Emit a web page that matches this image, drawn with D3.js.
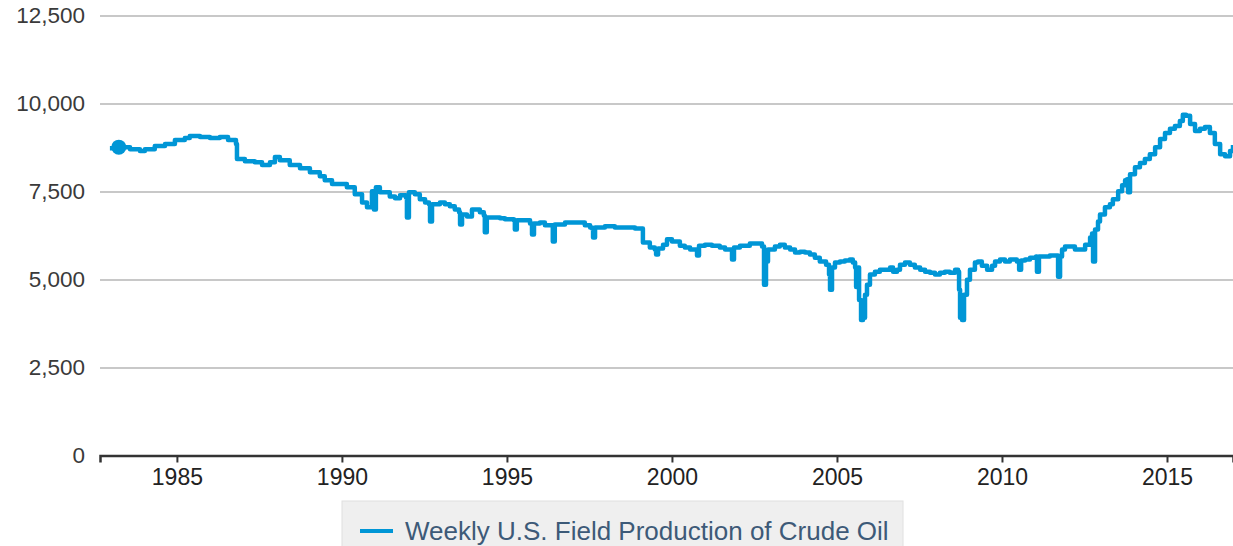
<!DOCTYPE html>
<html>
<head>
<meta charset="utf-8">
<script src="https://cdn.jsdelivr.net/npm/d3@7"></script>
<style>
  body { margin: 0; background: #fff; }
  svg { display: block; font-family: "Liberation Sans", Arial, sans-serif; }
</style>
</head>
<body>
<div id="chart"></div>
<script>
// values (thousand barrels per day)
const years = [
  1982.97, 1983.24, 1983.58, 1983.88, 1984.03, 1984.33, 1984.64, 1984.94, 1985.24, 1985.39,
  1985.70, 1986.00, 1986.30, 1986.55, 1986.79, 1986.82, 1987.06, 1987.36, 1987.58, 1987.70,
  1987.82, 1987.97, 1988.12, 1988.42, 1988.73, 1989.03, 1989.33, 1989.48, 1989.70, 1989.94,
  1990.15, 1990.39, 1990.61, 1990.76, 1990.85, 1990.91, 1990.97, 1991.03, 1991.15, 1991.45,
  1991.61, 1991.76, 1991.94, 1991.97, 1992.03, 1992.21, 1992.36, 1992.52, 1992.64, 1992.67,
  1992.73, 1992.97, 1993.12, 1993.27, 1993.42, 1993.55, 1993.58, 1993.64, 1993.79, 1993.94,
  1994.18, 1994.30, 1994.33, 1994.39, 1994.64, 1994.79, 1994.94, 1995.21, 1995.24, 1995.30,
  1995.55, 1995.70, 1995.76, 1995.82, 1996.00, 1996.15, 1996.36, 1996.39, 1996.45, 1996.76,
  1997.06, 1997.36, 1997.52, 1997.58, 1997.61, 1997.67, 1997.97, 1998.27, 1998.58, 1998.88,
  1999.09, 1999.12, 1999.33, 1999.48, 1999.52, 1999.58, 1999.73, 1999.85, 2000.00, 2000.24,
  2000.39, 2000.55, 2000.73, 2000.76, 2000.82, 2001.00, 2001.21, 2001.45, 2001.61, 2001.79,
  2001.82, 2001.88, 2002.06, 2002.36, 2002.61, 2002.73, 2002.79, 2002.85, 2002.91, 2003.12,
  2003.27, 2003.42, 2003.58, 2003.73, 2003.88, 2004.03, 2004.18, 2004.33, 2004.48, 2004.67,
  2004.76, 2004.79, 2004.85, 2004.94, 2005.09, 2005.24, 2005.39, 2005.48, 2005.55, 2005.58,
  2005.64, 2005.67, 2005.73, 2005.79, 2005.85, 2005.91, 2006.00, 2006.15, 2006.30, 2006.45,
  2006.61, 2006.70, 2006.82, 2006.91, 2007.06, 2007.21, 2007.36, 2007.52, 2007.67, 2007.82,
  2007.97, 2008.12, 2008.27, 2008.42, 2008.58, 2008.67, 2008.70, 2008.73, 2008.79, 2008.85,
  2008.94, 2009.03, 2009.18, 2009.27, 2009.39, 2009.55, 2009.70, 2009.79, 2009.94, 2010.09,
  2010.24, 2010.45, 2010.52, 2010.58, 2010.70, 2010.85, 2011.03, 2011.06, 2011.12, 2011.30,
  2011.45, 2011.64, 2011.70, 2011.76, 2011.82, 2011.91, 2012.06, 2012.21, 2012.36, 2012.52,
  2012.67, 2012.73, 2012.76, 2012.82, 2012.91, 2012.97, 2013.12, 2013.27, 2013.36, 2013.52,
  2013.64, 2013.73, 2013.79, 2013.82, 2013.88, 2014.03, 2014.18, 2014.33, 2014.48, 2014.64,
  2014.79, 2014.94, 2015.09, 2015.24, 2015.39, 2015.48, 2015.58, 2015.70, 2015.85, 2016.00,
  2016.15, 2016.30, 2016.45, 2016.61, 2016.76, 2016.91, 2017.00
];

const production = [
  8730, 8760, 8700, 8650, 8700, 8790, 8850, 8960, 9020, 9075,
  9050, 9020, 9050, 8960, 8850, 8420, 8360, 8330, 8250, 8250,
  8330, 8480, 8390, 8250, 8160, 8050, 7930, 7820, 7710, 7710,
  7620, 7420, 7190, 7050, 7050, 7510, 6990, 7620, 7480, 7360,
  7310, 7390, 7330, 6760, 7480, 7420, 7280, 7190, 7140, 6650,
  7140, 7190, 7140, 7080, 6990, 6910, 6560, 6850, 6790, 6990,
  6910, 6820, 6340, 6760, 6760, 6740, 6710, 6680, 6420, 6680,
  6680, 6590, 6280, 6590, 6620, 6540, 6540, 6080, 6560, 6620,
  6620, 6540, 6480, 6450, 6190, 6480, 6510, 6480, 6480, 6450,
  6450, 6050, 5910, 5850, 5710, 5880, 5990, 6140, 6080, 5960,
  5910, 5850, 5850, 5680, 5960, 5990, 5960, 5910, 5850, 5850,
  5570, 5910, 5960, 6020, 6020, 5940, 4850, 5510, 5850, 5940,
  5990, 5910, 5850, 5770, 5790, 5770, 5710, 5620, 5510, 5420,
  5140, 4710, 5340, 5480, 5510, 5540, 5570, 5480, 5340, 4790,
  5340, 4420, 3850, 3910, 4570, 4850, 5140, 5220, 5280, 5280,
  5340, 5220, 5280, 5420, 5480, 5420, 5340, 5280, 5220, 5190,
  5140, 5190, 5220, 5190, 5280, 5220, 4710, 3910, 3850, 4570,
  4990, 5280, 5480, 5510, 5390, 5280, 5390, 5510, 5570, 5510,
  5570, 5510, 5280, 5540, 5570, 5620, 5650, 5220, 5650, 5650,
  5680, 5680, 5080, 5650, 5850, 5940, 5940, 5850, 5850, 5990,
  6190, 6310, 5510, 6420, 6650, 6850, 7050, 7140, 7280, 7510,
  7680, 7820, 7850, 7480, 7990, 8190, 8310, 8420, 8560, 8760,
  8990, 9160, 9280, 9360, 9500, 9680, 9650, 9420, 9220, 9280,
  9330, 9160, 8850, 8560, 8500, 8650, 8820
];

const yTicks = [0, 2500, 5000, 7500, 10000, 12500];
const xTicks = [1985, 1990, 1995, 2000, 2005, 2010, 2015];
const xDomain = [1982.67, 2017.0];
const seriesName = "Weekly U.S. Field Production of Crude Oil";
const markerYear = 1983.24;
const markerValue = 8760;

const width = 1233, height = 546;
const margin = {top: 15.5, right: 0, bottom: 90.5, left: 100};
const innerW = width - margin.left - margin.right;
const innerH = height - margin.top - margin.bottom;
const lineColor = "#0096d6";

const svg = d3.select("#chart").append("svg")
    .attr("width", width)
    .attr("height", height);

const g = svg.append("g")
    .attr("transform", "translate(" + margin.left + "," + margin.top + ")");

const x = d3.scaleLinear().domain(xDomain).range([0, innerW]);
const y = d3.scaleLinear().domain([0, 12500]).range([innerH, 0]);

// horizontal grid + y labels
const yAxis = g.append("g")
    .call(d3.axisLeft(y).tickValues(yTicks).tickSize(-innerW).tickPadding(15)
        .tickFormat(d3.format(",")));
yAxis.select(".domain").remove();
yAxis.selectAll(".tick line")
    .attr("stroke", "#c8c8c8")
    .attr("stroke-width", 2);
yAxis.selectAll(".tick text")
    .attr("fill", "#3a3a3a")
    .style("font-size", "22.5px");

// bottom axis
const xAxis = g.append("g")
    .attr("transform", "translate(0," + innerH + ")")
    .call(d3.axisBottom(x).tickValues(xTicks).tickSize(7).tickPadding(6)
        .tickFormat(d3.format("d")));
xAxis.select(".domain")
    .attr("stroke", "#333")
    .attr("stroke-width", 2.5);
xAxis.selectAll(".tick line")
    .attr("stroke", "#333")
    .attr("stroke-width", 2);
xAxis.selectAll(".tick text")
    .attr("fill", "#222")
    .style("font-size", "23px");

// series - weekly data drawn as steps
const data = years.map((yr, i) => ({year: yr, value: production[i]}));

const line = d3.line()
    .curve(d3.curveStepAfter)
    .x(d => x(d.year))
    .y(d => y(d.value));

g.append("path")
    .datum(data)
    .attr("fill", "none")
    .attr("stroke", lineColor)
    .attr("stroke-width", 4.5)
    .attr("stroke-linejoin", "round")
    .attr("d", line);

g.append("circle")
    .attr("cx", x(markerYear))
    .attr("cy", y(markerValue))
    .attr("r", 7.5)
    .attr("fill", lineColor);

// legend
const legend = svg.append("g")
    .attr("transform", "translate(342,501)");

legend.append("rect")
    .attr("width", 561)
    .attr("height", 60)
    .attr("fill", "#efefef")
    .attr("stroke", "#e0e0e0");

legend.append("line")
    .attr("x1", 18).attr("x2", 51)
    .attr("y1", 30).attr("y2", 30)
    .attr("stroke", lineColor)
    .attr("stroke-width", 4);

legend.append("text")
    .attr("x", 63)
    .attr("y", 39)
    .attr("fill", "#3d5a78")
    .style("font-size", "26px")
    .text(seriesName);
</script>
</body>
</html>
